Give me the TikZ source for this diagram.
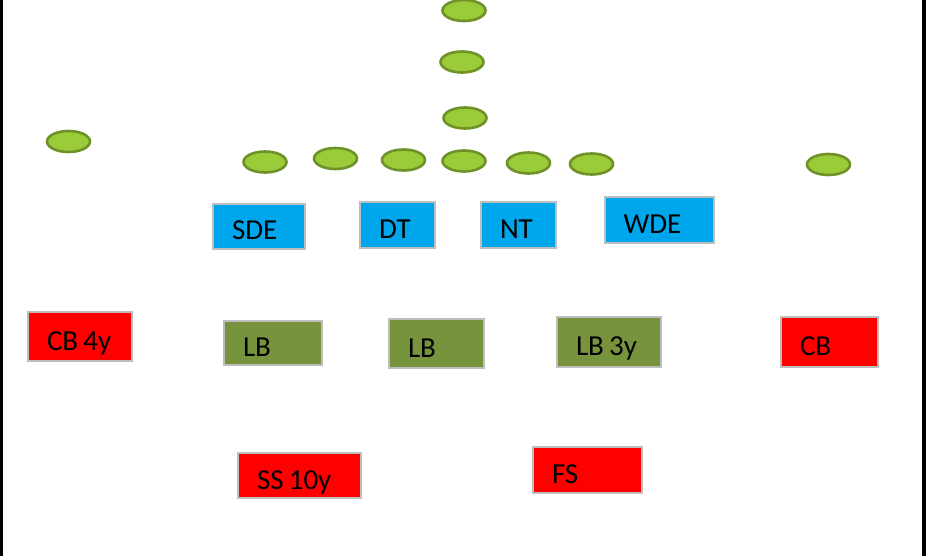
\documentclass[tikz,border=0pt]{standalone}
\usepackage{fontspec}
\setmainfont{Carlito}
\usepackage{tikz}
\usetikzlibrary{shapes}

\definecolor{playerfill}{RGB}{154,204,58}
\definecolor{playerline}{RGB}{110,146,40}
\definecolor{dlblue}{RGB}{0,166,235}
\definecolor{lbgreen}{RGB}{119,147,60}
\definecolor{dbred}{RGB}{255,0,0}
\definecolor{boxgray}{RGB}{190,190,190}

\tikzset{
    player/.style={ellipse, draw=playerline, fill=playerfill, line width=2.6pt, inner sep=0pt, minimum width=43pt, minimum height=21pt},
    box/.style={rectangle, draw=boxgray, line width=2pt, inner xsep=19pt, inner ysep=0pt, align=left,
        text height=27pt, text depth=0pt, font=\fontsize{29pt}{34pt}\selectfont,
        execute at begin node={\spaceskip=0.18em\relax}},
    dline/.style={box, fill=dlblue},
    backer/.style={box, fill=lbgreen},
    secondary/.style={box, fill=dbred}
}

\begin{document}
\begin{tikzpicture}[x=1pt, y=-1pt]
    \useasboundingbox (0,0) rectangle (926,556);

    % Side bars
    \fill[black] (0,0) rectangle (3,556);
    \fill[black] (922,0) rectangle (926,556);

    % Offense
    \node[player] (wrl) at (68.5,141.5) {};
    \node[player] (te) at (265,162) {};
    \node[player] (lt) at (335.5,158.5) {};
    \node[player] (lg) at (403.5,160) {};
    \node[player] (c) at (464,161) {};
    \node[player] (rg) at (528.5,163) {};
    \node[player] (rt) at (591.5,164) {};
    \node[player] (wrr) at (828.5,164.5) {};
    \node[player] (qb) at (465,118) {};
    \node[player] (fb) at (462,62) {};
    \node[player] (tb) at (464,10.5) {};

    % Defensive line
    \node[dline, text width=54pt, minimum height=45pt] (sde) at (259,226.5) {SDE};
    \node[dline, text width=37pt, minimum height=46pt] (dt) at (397.5,225) {DT};
    \node[dline, text width=37pt, minimum height=46pt] (nt) at (518.5,225) {NT};
    \node[dline, text width=71pt, minimum height=46pt] (wde) at (659,220) {WDE};

    % Linebackers and corners
    \node[secondary, text width=66pt, minimum height=49pt] (cbl) at (80,336.5) {CB 4y};
    \node[backer, text width=60pt, minimum height=44pt] (lbl) at (273,343) {LB};
    \node[backer, text width=57pt, minimum height=49pt] (lbm) at (436.5,343.5) {LB};
    \node[backer, text width=66pt, minimum height=50pt] (lbr) at (609,342) {LB 3y};
    \node[secondary, text width=59pt, minimum height=50pt] (cbr) at (829.5,342) {CB};

    % Safeties
    \node[secondary, text width=85pt, minimum height=45pt] (ss) at (299.5,475.5) {SS 10y};
    \node[secondary, text width=71pt, minimum height=46pt] (fs) at (587.5,470) {FS};
\end{tikzpicture}
\end{document}
